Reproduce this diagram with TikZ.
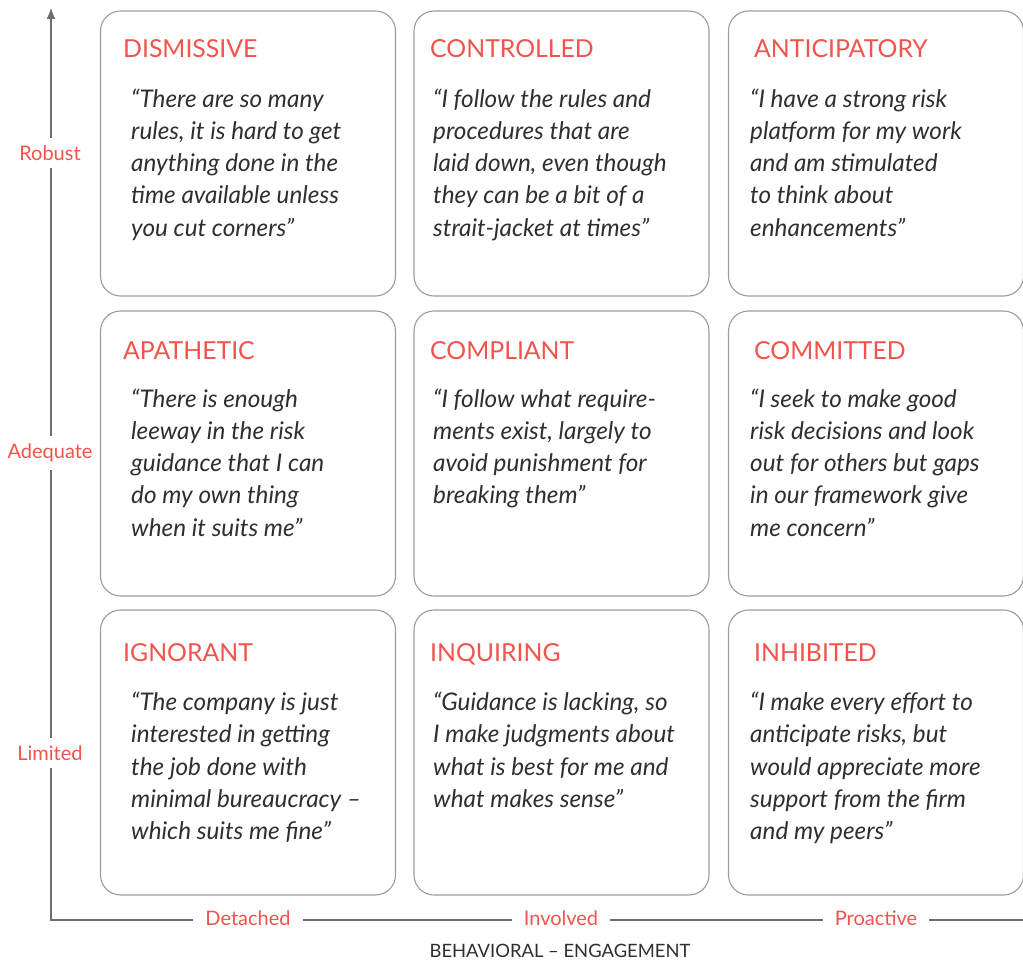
\documentclass[tikz,border=0pt]{standalone}
\usepackage{fontspec}
\setmainfont{Lato}
\usepackage{tikz}
\usetikzlibrary{arrows.meta}

\definecolor{riskred}{HTML}{F0544C}
\definecolor{boxgray}{HTML}{9C9C9C}
\definecolor{axisgray}{HTML}{6E6E6E}
\definecolor{quotegray}{HTML}{2F2F2F}

\tikzset{
  cell/.style={draw=boxgray, line width=1.1pt, rounded corners=20pt,
    minimum width=295pt, minimum height=285pt, inner sep=0pt},
  head/.style={anchor=base west, inner sep=0pt, text=riskred,
    font=\fontsize{24.8pt}{28pt}\selectfont},
  quote/.style={anchor=north west, align=left, inner sep=0pt, text=quotegray,
    font=\fontsize{24.3pt}{32.25pt}\selectfont\itshape,
    execute at begin node=\strut},
  axis/.style={draw=axisgray, line width=1.2pt},
  level/.style={fill=white, text=riskred, inner xsep=12pt, inner ysep=8pt,
    font=\fontsize{20pt}{24pt}\selectfont}
}

\begin{document}
\begin{tikzpicture}[x=1pt, y=-1pt]
\useasboundingbox (0,0) rectangle (1023,960);

% Axes
\coordinate (origin) at (51,920);
\coordinate (ytop) at (51,8);
\coordinate (xend) at (1023,920);
\draw[axis, -{Latex[length=11pt,width=9pt]}] (xend) -- (origin) -- (ytop);

% levels on the y axis
\node[level] (robust) at (50,153) {Robust};
\node[level] (adequate) at (50,453) {Adequate};
\node[level] (limited) at (50,753) {Limited};

% levels on the x axis
\node[level] (detached) at (248,918) {Detached};
\node[level] (involved) at (561,918) {Involved};
\node[level] (proactive) at (876,918) {Proactive};

\node[text=quotegray, font=\fontsize{18.4pt}{22pt}\selectfont] (engagement) at (560,951)
  {BEHAVIORAL -- ENGAGEMENT};

% Top row
\node[cell] (dismissive) at (248,153.5) {};
\node[head] (dismissivehead) at (123,58) {DISMISSIVE};
\node[quote] (dismissivequote) at (131,88.5) {“There are so many\\rules, it is hard to get\\anything done in the\\time available unless\\you cut corners”};

\node[cell] (controlled) at (561.5,153.5) {};
\node[head] (controlledhead) at (430,58) {CONTROLLED};
\node[quote] (controlledquote) at (433,88.5) {“I follow the rules and\\procedures that are\\laid down, even though\\they can be a bit of a\\strait-jacket at times”};

\node[cell] (anticipatory) at (876,153.5) {};
\node[head] (anticipatoryhead) at (754,58) {ANTICIPATORY};
\node[quote] (anticipatoryquote) at (750,88.5) {“I have a strong risk\\platform for my work\\and am stimulated\\to think about\\enhancements”};

% Middle row
\node[cell] (apathetic) at (248,453.5) {};
\node[head] (apathetichead) at (123,359) {APATHETIC};
\node[quote] (apatheticquote) at (131,388.5) {“There is enough\\leeway in the risk\\guidance that I can\\do my own thing\\when it suits me”};

\node[cell] (compliant) at (561.5,453.5) {};
\node[head] (complianthead) at (430,359) {COMPLIANT};
\node[quote] (compliantquote) at (433,388.5) {“I follow what require-\\ments exist, largely to\\avoid punishment for\\breaking them”};

\node[cell] (committed) at (876,453.5) {};
\node[head] (committedhead) at (754,359) {COMMITTED};
\node[quote] (committedquote) at (750,388.5) {“I seek to make good\\risk decisions and look\\out for others but gaps\\in our framework give\\me concern”};

% Bottom row
\node[cell] (ignorant) at (248,752.5) {};
\node[head] (ignoranthead) at (123,661) {IGNORANT};
\node[quote] (ignorantquote) at (131,692) {“The company is just\\interested in getting\\the job done with\\minimal bureaucracy –\\which suits me fine”};

\node[cell] (inquiring) at (561.5,752.5) {};
\node[head] (inquiringhead) at (430,661) {INQUIRING};
\node[quote] (inquiringquote) at (433,692) {“Guidance is lacking, so\\I make judgments about\\what is best for me and\\what makes sense”};

\node[cell] (inhibited) at (876,752.5) {};
\node[head] (inhibitedhead) at (754,661) {INHIBITED};
\node[quote] (inhibitedquote) at (750,692) {“I make every effort to\\anticipate risks, but\\would appreciate more\\support from the firm\\and my peers”};

\end{tikzpicture}
\end{document}
